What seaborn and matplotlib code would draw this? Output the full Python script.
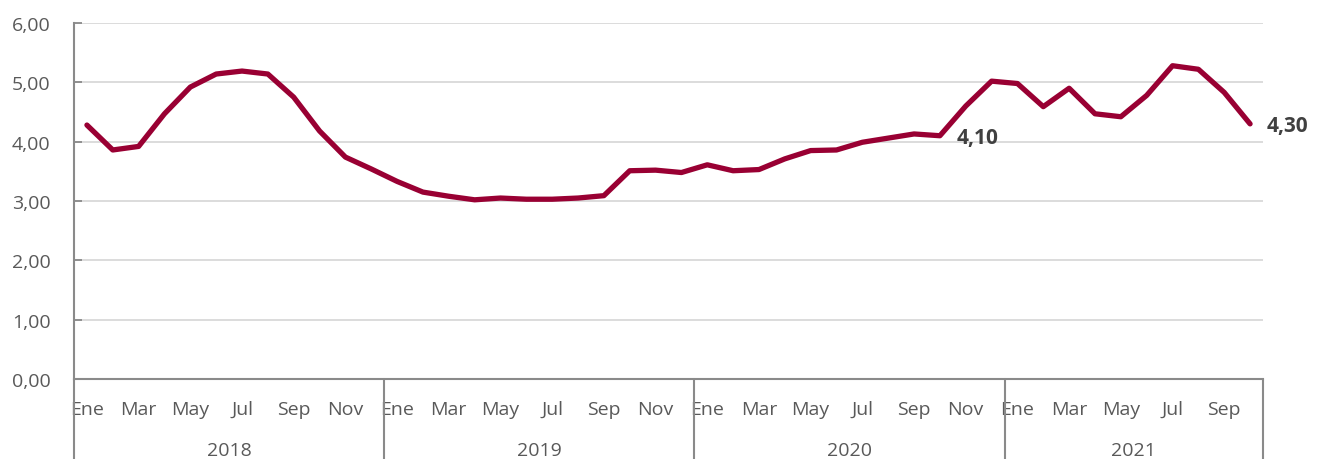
import numpy as np
import pandas as pd
import matplotlib.pyplot as plt
import matplotlib.transforms as mtransforms
import seaborn as sns

# monthly values, Ene 2018 - Oct 2021
years = ['2018', '2019', '2020', '2021']
months = ['Ene', 'Feb', 'Mar', 'Abr', 'May', 'Jun', 'Jul', 'Ago', 'Sep', 'Oct', 'Nov', 'Dic']
months_per_year = [12, 12, 12, 10]

vals_2018 = [4.28, 3.86, 3.92, 4.47, 4.92, 5.14, 5.19, 5.14, 4.75, 4.18, 3.74, 3.54]
vals_2019 = [3.33, 3.15, 3.08, 3.02, 3.05, 3.03, 3.03, 3.05, 3.09, 3.51, 3.52, 3.48]
vals_2020 = [3.61, 3.51, 3.53, 3.71, 3.85, 3.86, 3.99, 4.06, 4.13, 4.10, 4.60, 5.02]
vals_2021 = [4.98, 4.59, 4.90, 4.47, 4.42, 4.78, 5.28, 5.22, 4.83, 4.30]

values = vals_2018 + vals_2019 + vals_2020 + vals_2021
labels = []
for y, n in zip(years, months_per_year):
    labels += months[:n]

df = pd.DataFrame({'pos': np.arange(len(values)), 'mes': labels, 'valor': values})

line_color = '#990033'
axis_color = '#8a8a8a'
text_color = '#595959'

sns.set_style('white')
plt.rcParams['font.family'] = ['Open Sans', 'DejaVu Sans']

fig = plt.figure(figsize=(13.2, 4.6), dpi=100)
ax = fig.add_axes([74/1320, 1 - 380/460, (1263 - 74)/1320, 356/460])

sns.lineplot(data=df, x='pos', y='valor', color=line_color, linewidth=3.8, ax=ax,
             solid_joinstyle='round', solid_capstyle='round')

ax.set_xlim(-0.5, len(values) - 0.5)
ax.set_ylim(0, 6)
ax.set_yticks(np.arange(0, 7, 1))
ax.set_yticklabels([f'{v:.2f}'.replace('.', ',') for v in np.arange(0, 7, 1)],
                   fontsize=14, color=text_color)
ax.yaxis.grid(True, color='#d9d9d9', linewidth=1.3)
ax.tick_params(axis='y', direction='in', length=6, color=axis_color, width=1.3, pad=17, left=True)

tick_pos = [i for i, m in enumerate(labels) if months.index(m) % 2 == 0]
ax.set_xticks(tick_pos)
ax.set_xticklabels([labels[i] for i in tick_pos], fontsize=14, color=text_color)
ax.tick_params(axis='x', length=0, pad=15)
ax.set_xlabel('')
ax.set_ylabel('')

for s in ['top', 'right']:
    ax.spines[s].set_visible(False)
ax.spines['left'].set_color(axis_color)
ax.spines['left'].set_linewidth(1.5)
ax.spines['bottom'].set_color(axis_color)
ax.spines['bottom'].set_linewidth(1.5)

# year separators and year labels below the axis
trans = mtransforms.blended_transform_factory(ax.transData, ax.transAxes)
start = 0
for y, n in zip(years, months_per_year):
    left = start - 0.5
    right = start + n - 0.5
    ax.plot([left, left], [0, -0.23], transform=trans, color=axis_color, lw=1.5, clip_on=False)
    ax.text((left + right) / 2, -0.2, y, transform=trans, ha='center', va='center',
            fontsize=14, color=text_color)
    start += n
ax.plot([start - 0.5, start - 0.5], [0, -0.23], transform=trans, color=axis_color, lw=1.5, clip_on=False)

# data labels
for idx in [33, 45]:
    ax.annotate(f'{values[idx]:.2f}'.replace('.', ','), (idx, values[idx]),
                xytext=(12, -1), textcoords='offset points', ha='left', va='center',
                fontsize=15, fontweight='bold', color='#404040', annotation_clip=False)

plt.savefig('out.png', dpi=100)
